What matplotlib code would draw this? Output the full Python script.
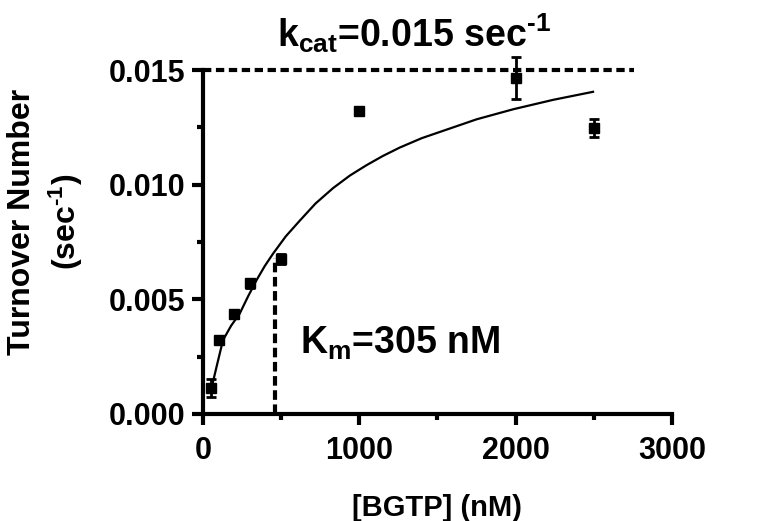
import matplotlib
matplotlib.use("Agg")
import matplotlib.pyplot as plt
from matplotlib.ticker import MultipleLocator

plt.rcParams['font.family'] = ['Liberation Sans', 'DejaVu Sans']
plt.rcParams['font.weight'] = 'bold'
plt.rcParams['mathtext.fontset'] = 'custom'
plt.rcParams['mathtext.rm'] = 'Liberation Sans:bold'
plt.rcParams['mathtext.it'] = 'Liberation Sans:bold'
plt.rcParams['mathtext.bf'] = 'Liberation Sans:bold'

# measured turnover vs substrate
bgtp = [50, 100, 200, 300, 500, 1000, 2000, 2500]
turnover = [0.00113, 0.00322, 0.00437, 0.0057, 0.00676, 0.01322, 0.01465, 0.01248]
turnover_err = [0.0004, 0.0001, 0.0001, 0.0002, 0.0002, 0.0001, 0.0009, 0.0004]

# fitted curve
fit_x = [50, 90, 128, 180, 235, 290, 342, 395, 448, 530, 619, 720, 832, 940,
         1046, 1150, 1259, 1400, 1558, 1750, 1985, 2240, 2495]
fit_y = [0.00100, 0.00215, 0.00322, 0.00385, 0.00438, 0.00515, 0.00583, 0.00645,
         0.00699, 0.00775, 0.00843, 0.00918, 0.00985, 0.01040, 0.01085, 0.01125,
         0.01162, 0.01203, 0.01240, 0.01285, 0.01329, 0.01370, 0.01405]

kcat = 0.015
kcat_line_end = 2760
km_line_x = 459
km_line_top = 0.0068

fig = plt.figure(figsize=(7.68, 5.21), dpi=100)
ax = fig.add_axes([0.2643, 0.2054, 0.6107, 0.6602])

ax.plot(fit_x, fit_y, color='black', lw=1.6)
ax.errorbar(bgtp, turnover, yerr=turnover_err, fmt='s', color='black',
            ms=7, capsize=3.5, elinewidth=2, capthick=2, clip_on=False)

ax.plot([0, kcat_line_end], [kcat, kcat], color='black', lw=3,
        dashes=(2, 1.1), clip_on=False)
ax.plot([km_line_x, km_line_x], [0, km_line_top], color='black', lw=3,
        dashes=(2.3, 1.1), clip_on=False)

ax.text(472, 0.0160, 'k$_{\\rm cat}$=0.015 sec$^{\\rm \u20101}$', fontsize=27,
        ha='left', va='baseline', fontweight='bold')
ax.text(619, 0.00265, 'K$_{\\rm m}$=305 nM', fontsize=27,
        ha='left', va='baseline', fontweight='bold')

ax.set_xlim(0, 3000)
ax.set_ylim(0, 0.015)
ax.xaxis.set_major_locator(MultipleLocator(1000))
ax.xaxis.set_minor_locator(MultipleLocator(500))
ax.yaxis.set_major_locator(MultipleLocator(0.005))
ax.yaxis.set_minor_locator(MultipleLocator(0.0025))
ax.yaxis.set_major_formatter(plt.FormatStrFormatter('%.3f'))

for s in ['top', 'right']:
    ax.spines[s].set_visible(False)
for s in ['left', 'bottom']:
    ax.spines[s].set_linewidth(3)
ax.tick_params(which='major', length=8, width=3, labelsize=22, pad=5)
ax.tick_params(axis='x', which='major', pad=8)
ax.tick_params(which='minor', length=4, width=3)

ax.set_xlabel('[BGTP] (nM)', fontsize=21, fontweight='bold', labelpad=20)
fig.text(46 / 768, 1 - 222 / 521, 'Turnover Number\n(sec$^{\\rm \u20101}$)',
         rotation=90, ha='center', va='center', fontsize=23,
         fontweight='bold', multialignment='center', linespacing=1.3)

fig.savefig('out.png', dpi=100)
